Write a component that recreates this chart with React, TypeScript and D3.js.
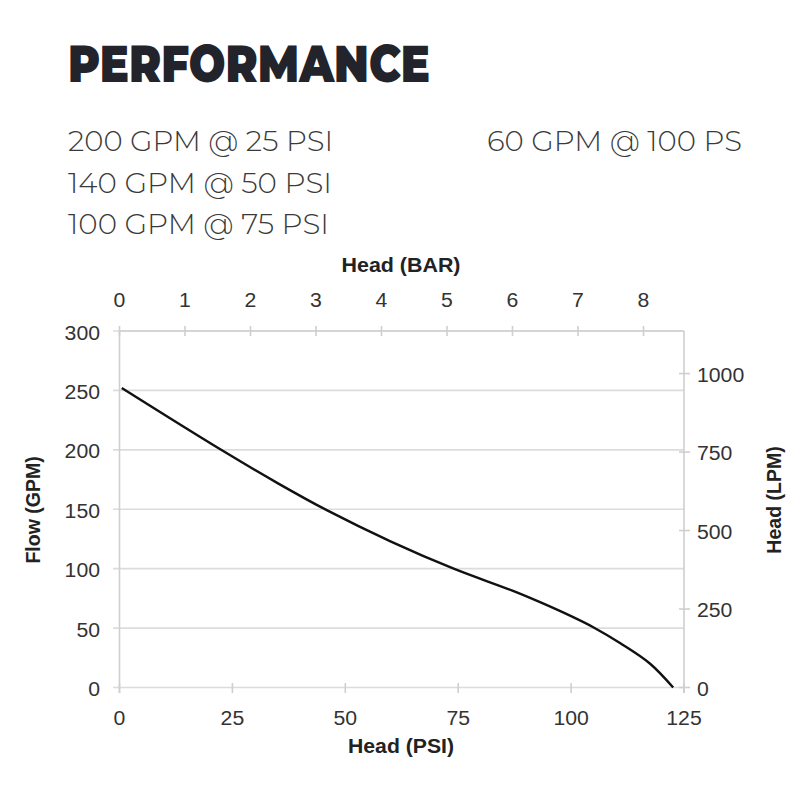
import React from "react";
import * as d3 from "d3";

const title = "PERFORMANCE";
const specsLeft = ["200 GPM @ 25 PSI", "140 GPM @ 50 PSI", "100 GPM @ 75 PSI"];
const specsRight = ["60 GPM @ 100 PS"];

const headPsi = [0.5, 22.5, 35, 46, 60, 74, 87, 93, 100, 105, 111, 117.5, 122.6];
const flowGpm = [252, 200, 172, 149, 123, 100, 81.5, 72, 60, 50.5, 37, 20, 0];

const psiTicks = [0, 25, 50, 75, 100, 125];
const gpmTicks = [0, 50, 100, 150, 200, 250, 300];
const barTicks = [0, 1, 2, 3, 4, 5, 6, 7, 8];
const lpmTicks = [0, 250, 500, 750, 1000];

const PSI_PER_BAR = 14.5038;
const LPM_PER_GPM = 3.78541;

export default function App() {
  const x = d3.scaleLinear().domain([0, 125]).range([119.5, 684]);
  const y = d3.scaleLinear().domain([0, 300]).range([687.5, 331]);
  const xBar = d3.scaleLinear().domain([0, 125 / PSI_PER_BAR]).range([119.5, 684]);
  const yL = d3.scaleLinear().domain([0, 300 * LPM_PER_GPM]).range([687.5, 331]);

  const pts = headPsi.map((h, i) => [h, flowGpm[i]] as [number, number]);
  const line = d3
    .line<[number, number]>()
    .x((d) => x(d[0]))
    .y((d) => y(d[1]))
    .curve(d3.curveCatmullRom.alpha(0.5));

  const grid = "#dcdcdc";
  const axisCol = "#cfcfcf";
  const tickFont = "Liberation Sans, Arial, sans-serif";
  const labelCol = "#333";
  const fs = 20;
  const tl = (t: number) => String(t).length * 11.8;

  return (
    <svg
      width={800}
      height={800}
      style={{ position: "absolute", left: 0, top: 0, background: "#fff" }}
    >
      <text
        x={68}
        y={82}
        fontFamily="Montserrat, Inter, 'Open Sans', sans-serif"
        fontWeight={900}
        fontSize={51}
        fill="#23232b"
        textLength={362}
        lengthAdjust="spacingAndGlyphs"
      >
        {title}
      </text>
      {specsLeft.map((s, i) => (
        <text
          key={s}
          x={68}
          y={151 + i * 41.5}
          fontFamily="Montserrat, Inter, Lato, sans-serif"
          fontWeight={300}
          fontSize={28}
          fill="#3a3a3a"
          textLength={[265, 264, 261][i]}
          lengthAdjust="spacingAndGlyphs"
        >
          {s}
        </text>
      ))}
      {specsRight.map((s) => (
        <text
          key={s}
          x={487}
          y={151}
          fontFamily="Montserrat, Inter, Lato, sans-serif"
          fontWeight={300}
          fontSize={28}
          fill="#3a3a3a"
          textLength={255}
          lengthAdjust="spacingAndGlyphs"
        >
          {s}
        </text>
      ))}

      {/* gridlines */}
      {gpmTicks.map((t) => (
        <line key={"g" + t} x1={113} x2={684} y1={y(t)} y2={y(t)} stroke={grid} strokeWidth={1.6} />
      ))}

      {/* axis lines */}
      <line x1={x(0)} x2={x(0)} y1={331} y2={693} stroke={axisCol} strokeWidth={1.6} />
      <line x1={x(125)} x2={x(125)} y1={331} y2={693} stroke={axisCol} strokeWidth={1.6} />
      <line x1={x(0)} x2={x(125)} y1={331} y2={331} stroke={axisCol} strokeWidth={1.6} />

      {/* bottom ticks */}
      {psiTicks.map((t) => (
        <g key={"b" + t}>
          <line x1={x(t)} x2={x(t)} y1={683} y2={693} stroke={axisCol} strokeWidth={1.6} />
          <text
            x={x(t)}
            y={725}
            textAnchor="middle"
            fontFamily={tickFont}
            fontSize={fs}
            fill={labelCol}
            textLength={tl(t)}
            lengthAdjust="spacingAndGlyphs"
          >
            {t}
          </text>
        </g>
      ))}
      {/* top ticks */}
      {barTicks.map((t) => (
        <g key={"t" + t}>
          <line x1={xBar(t)} x2={xBar(t)} y1={326} y2={336} stroke={axisCol} strokeWidth={1.6} />
          <text
            x={xBar(t)}
            y={307}
            textAnchor="middle"
            fontFamily={tickFont}
            fontSize={fs}
            fill={labelCol}
            textLength={tl(t)}
            lengthAdjust="spacingAndGlyphs"
          >
            {t}
          </text>
        </g>
      ))}
      {/* left ticks */}
      {gpmTicks.map((t) => (
        <text
          key={"l" + t}
          x={100}
          y={y(t) + 8.5}
          textAnchor="end"
          fontFamily={tickFont}
          fontSize={fs}
          fill={labelCol}
          textLength={tl(t)}
          lengthAdjust="spacingAndGlyphs"
        >
          {t}
        </text>
      ))}
      {/* right ticks */}
      {lpmTicks.map((t) => (
        <g key={"r" + t}>
          <line x1={679} x2={690} y1={yL(t)} y2={yL(t)} stroke={axisCol} strokeWidth={1.6} />
          <text
            x={697}
            y={yL(t) + 8}
            textAnchor="start"
            fontFamily={tickFont}
            fontSize={fs}
            fill={labelCol}
            textLength={tl(t)}
            lengthAdjust="spacingAndGlyphs"
          >
            {t}
          </text>
        </g>
      ))}

      {/* axis titles */}
      <text
        x={401}
        y={271.5}
        textAnchor="middle"
        fontFamily={tickFont}
        fontWeight={700}
        fontSize={19.5}
        fill="#222"
        textLength={119}
        lengthAdjust="spacingAndGlyphs"
      >
        Head (BAR)
      </text>
      <text
        x={401}
        y={753}
        textAnchor="middle"
        fontFamily={tickFont}
        fontWeight={700}
        fontSize={19.5}
        fill="#222"
        textLength={106}
        lengthAdjust="spacingAndGlyphs"
      >
        Head (PSI)
      </text>
      <text
        transform={`translate(40,510) rotate(-90)`}
        textAnchor="middle"
        fontFamily={tickFont}
        fontWeight={700}
        fontSize={19.5}
        fill="#222"
      >
        Flow (GPM)
      </text>
      <text
        transform={`translate(781,500) rotate(-90)`}
        textAnchor="middle"
        fontFamily={tickFont}
        fontWeight={700}
        fontSize={19.5}
        fill="#222"
      >
        Head (LPM)
      </text>

      <path d={line(pts) || ""} fill="none" stroke="#111" strokeWidth={2.4} />
    </svg>
  );
}
